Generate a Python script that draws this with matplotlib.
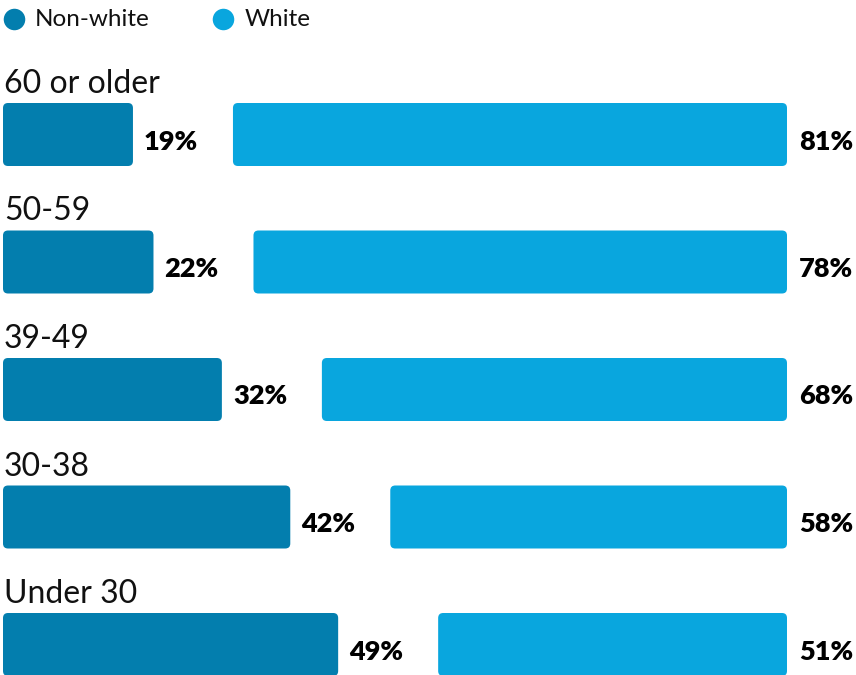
import matplotlib
matplotlib.use("Agg")
import matplotlib.pyplot as plt
from matplotlib.patches import FancyBboxPatch

categories = ["60 or older", "50-59", "39-49", "30-38", "Under 30"]
non_white = [19, 22, 32, 42, 49]
white = [81, 78, 68, 58, 51]
series_names = ["Non-white", "White"]

C_NW = "#037EAE"
C_W = "#09A6DE"

W, H, DPI = 856, 675, 100
fig = plt.figure(figsize=(W / DPI, H / DPI), dpi=DPI)
ax = fig.add_axes([0, 0, 1, 1])

px_per_unit = 6.84          # horizontal pixels per percentage point
row_px = 127.5              # vertical pixels per row
x0_px = 3
first_center_px = 134.5
gap = 100 / px_per_unit     # gap between the two bars, in % units
bar_h = 63 / row_px

ax.set_xlim(-x0_px / px_per_unit, (W - x0_px) / px_per_unit)
ax.set_ylim((H - first_center_px) / row_px, -first_center_px / row_px)
ax.axis("off")

aspect = px_per_unit / row_px
rad = 5 / px_per_unit

font = "Lato"

def rbar(x, y, w, color):
    p = FancyBboxPatch((x, y - bar_h / 2), w, bar_h,
                       boxstyle=f"round,pad=0,rounding_size={rad}",
                       mutation_aspect=aspect, fc=color, ec="none")
    ax.add_patch(p)

for i, (cat, nw, wh) in enumerate(zip(categories, non_white, white)):
    rbar(0, i, nw, C_NW)
    ws = nw + gap
    rbar(ws, i, wh, C_W)
    ax.annotate(f"{nw}%", (nw, i), xytext=(11, -15), textcoords="offset pixels",
                ha="left", va="baseline", fontsize=19.5, fontweight="heavy",
                family=font, color="black")
    ax.annotate(f"{wh}%", (ws + wh, i), xytext=(12, -15), textcoords="offset pixels",
                ha="left", va="baseline", fontsize=19.5, fontweight="heavy",
                family=font, color="black")
    ax.annotate(cat, (0, i - bar_h / 2), xytext=(1, 10), textcoords="offset pixels",
                ha="left", va="baseline", fontsize=23, family=font, color="#111111")

# legend (drawn manually in figure pixel positions)
def fx(px):
    return px / W

def fy(py):
    return 1 - py / H

for name, color, cx, tx in zip(series_names, (C_NW, C_W), (14, 223), (35, 245)):
    fig.add_artist(plt.Line2D([fx(cx)], [fy(19)], transform=fig.transFigure,
                              marker="o", ms=15.5, mfc=color, mec="none", ls="none"))
    fig.text(fx(tx), fy(19), name, ha="left", va="center", fontsize=17.5,
             family=font, color="#111111")

fig.savefig("out.png", dpi=DPI)
